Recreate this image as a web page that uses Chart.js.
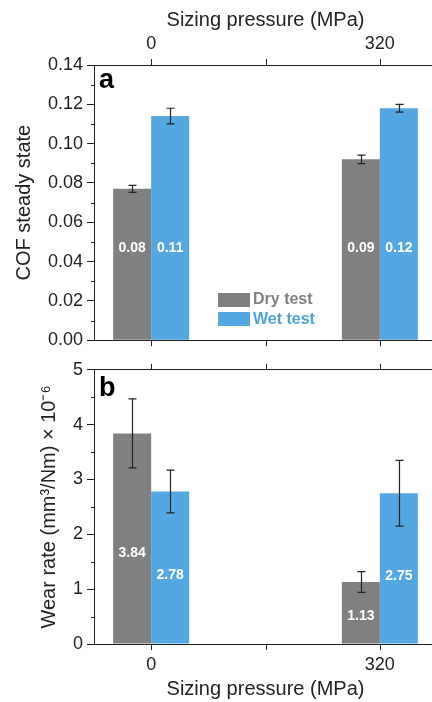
<!DOCTYPE html>
<html>
<head>
<meta charset="utf-8">
<script src="https://cdn.jsdelivr.net/npm/chart.js@4.4.0/dist/chart.umd.min.js"></script>
<style>
html,body{margin:0;padding:0;background:#fff;overflow:hidden;width:432px;height:702px}
#wrap{position:relative;width:438px;height:702px}
canvas{position:absolute;left:0}
#c1{top:0}
#c2{top:355px}
.tag{position:absolute;left:99px;font:bold 27px "Liberation Sans",Arial,sans-serif;line-height:27px;color:#000}
.box{position:absolute;left:218px;width:32px;height:14px}
.leg{position:absolute;left:253px;font:bold 16px "Liberation Sans",Arial,sans-serif;line-height:16px}
</style>
</head>
<body>
<div id="wrap">
  <canvas id="c1" width="438" height="355"></canvas>
  <canvas id="c2" width="438" height="347"></canvas>
  <div class="tag" style="top:66px">a</div>
  <div class="tag" style="top:374px">b</div>
  <div id="legend"></div>
</div>
<script>
const pressures = ["0", "160", "320"];
const shownPressures = ["0", "320"];
const seriesNames = ["Dry test", "Wet test"];
const seriesColors = ["#808080", "#53a8e1"];
const legendText = ["#808080", "#4fa3dd"];

const cofDry = [0.077, null, 0.092];
const cofWet = [0.114, null, 0.118];
const cofDryErr = [0.0018, null, 0.0022];
const cofWetErr = [0.004, null, 0.002];

const wearDry = [3.84, null, 1.13];
const wearWet = [2.78, null, 2.75];
const wearDryErr = [0.63, null, 0.19];
const wearWetErr = [0.39, null, 0.6];

const $ = id => document.getElementById(id);
const FONT = '"Liberation Sans", Arial, sans-serif';
const INK = "#222";

// error bars drawn from the dataset values through the y scale
const errorBars = {
  id: "errorBars",
  afterDatasetsDraw(c){
    const ctx = c.ctx, y = c.scales.y;
    ctx.save();
    ctx.strokeStyle = INK;
    ctx.lineWidth = 1.2;
    c.data.datasets.forEach((ds, i) => {
      const meta = c.getDatasetMeta(i);
      ds.errors.forEach((e, j) => {
        if (e == null || ds.data[j] == null) return;
        const x = Math.round(meta.data[j].x) + 0.5;
        const t = y.getPixelForValue(ds.data[j] + e), b = y.getPixelForValue(ds.data[j] - e);
        ctx.beginPath();
        ctx.moveTo(x, t); ctx.lineTo(x, b);
        ctx.moveTo(x - 4, t); ctx.lineTo(x + 4, t);
        ctx.moveTo(x - 4, b); ctx.lineTo(x + 4, b);
        ctx.stroke();
      });
    });
    ctx.restore();
  }
};

const valueLabels = {
  id: "valueLabels",
  afterDatasetsDraw(c, args, o){
    const ctx = c.ctx, y = c.scales.y;
    ctx.save();
    ctx.fillStyle = "#fff";
    ctx.font = "bold 14px " + FONT;
    ctx.textAlign = "center";
    ctx.textBaseline = "middle";
    c.data.datasets.forEach((ds, i) => {
      const meta = c.getDatasetMeta(i);
      ds.data.forEach((v, j) => {
        if (v == null) return;
        const at = Math.min(o.at, v * o.frac);
        ctx.fillText(v.toFixed(2), meta.data[j].x, y.getPixelForValue(at));
      });
    });
    ctx.restore();
  }
};

// minor ticks on y, half way between the labelled ones; x tick marks on both frame edges
const axisMarks = {
  id: "axisMarks",
  afterDraw(c, args, o){
    const s = c.scales.y, ctx = c.ctx, a = c.chartArea;
    const n = Math.round((s.max - s.min) / o.step);
    ctx.save();
    ctx.strokeStyle = INK;
    ctx.lineWidth = 1;
    ctx.beginPath();
    for (let k = 0; k < n; k++) {
      const py = Math.round(s.getPixelForValue(s.min + (k + 0.5) * o.step)) + 0.5;
      ctx.moveTo(s.right, py); ctx.lineTo(s.right - 3, py);
    }
    const xs = c.scales.x;
    xs.ticks.forEach((t, i) => {
      const px = Math.round(xs.getPixelForTick(i)) + 0.5;
      ctx.moveTo(px, a.top); ctx.lineTo(px, a.top - 6);
      ctx.moveTo(px, a.bottom); ctx.lineTo(px, a.bottom + 6);
    });
    ctx.stroke();
    ctx.restore();
  }
};

function xAxis(pos, showLabels, title, h, titlePad){
  return {
    type: "category", position: pos, offset: true,
    grid: {display: true, drawOnChartArea: false, drawTicks: false, offset: false},
    border: {display: true, color: INK, width: 1},
    ticks: {
      padding: 10, color: INK, font: {family: FONT, size: 18}, maxRotation: 0, autoSkip: false,
      callback(v){ const l = this.getLabelForValue(v); return showLabels && shownPressures.includes(l) ? l : ""; }
    },
    title: {display: !!title, text: title, color: INK, font: {family: FONT, size: 20}, padding: titlePad},
    afterFit(s){ s.height = h; }
  };
}

function yAxis(max, step, digits, title, titlePad){
  return {
    position: "left", min: 0, max: max,
    grid: {drawOnChartArea: false, tickLength: 7, color: INK},
    border: {display: true, color: INK, width: 1},
    ticks: {stepSize: step, padding: 4, color: INK, font: {family: FONT, size: 18},
      callback: v => v.toFixed(digits)},
    title: {display: true, text: title, color: INK, font: {family: FONT, size: 20}, padding: titlePad},
    afterFit(s){ s.width = 94; }
  };
}

function makeChart(el, dry, wet, dryErr, wetErr, scales, labelAt, labelFrac, step){
  return new Chart(el, {
    type: "bar",
    data: {
      labels: pressures,
      datasets: [
        {label: seriesNames[0], data: dry, errors: dryErr, backgroundColor: seriesColors[0], borderWidth: 0, xAxisID: "x"},
        {label: seriesNames[1], data: wet, errors: wetErr, backgroundColor: seriesColors[1], borderWidth: 0, xAxisID: "x"}
      ]
    },
    options: {
      responsive: false, animation: false, devicePixelRatio: 1,
      categoryPercentage: 0.665, barPercentage: 1,
      layout: {padding: {left: 0, right: 1, top: 0, bottom: 0}},
      plugins: {legend: {display: false}, tooltip: {enabled: false},
        valueLabels: {at: labelAt, frac: labelFrac}, axisMarks: {step: step}},
      scales: scales
    },
    plugins: [errorBars, valueLabels, axisMarks]
  });
}

makeChart($("c1"), cofDry, cofWet, cofDryErr, cofWetErr, {
  x: xAxis("bottom", false, "", 14, 0),
  x2: xAxis("top", true, "Sizing pressure (MPa)", 65, {top: 8, bottom: 0}),
  y: yAxis(0.14, 0.02, 2, "COF steady state", {top: 12, bottom: 0})
}, 0.0467, 1, 0.02);

makeChart($("c2"), wearDry, wearWet, wearDryErr, wearWetErr, {
  x: xAxis("bottom", true, "Sizing pressure (MPa)", 58, {top: 0, bottom: 1}),
  x2: xAxis("top", false, "", 13, 0),
  y: yAxis(5, 1, 0, "Wear rate (mm\u00b3/Nm) \u00d7 10\u207b\u2076", {top: 37, bottom: 0})
}, 1.664, 0.45, 1);

// legend
const legTops = [[293, 291], [312, 311]];
seriesNames.forEach((n, i) => {
  const b = document.createElement("div");
  b.className = "box";
  b.style.top = legTops[i][0] + "px";
  b.style.background = seriesColors[i];
  const t = document.createElement("div");
  t.className = "leg";
  t.style.top = legTops[i][1] + "px";
  t.style.color = legendText[i];
  t.textContent = n;
  $("legend").append(b, t);
});
</script>
</body>
</html>
